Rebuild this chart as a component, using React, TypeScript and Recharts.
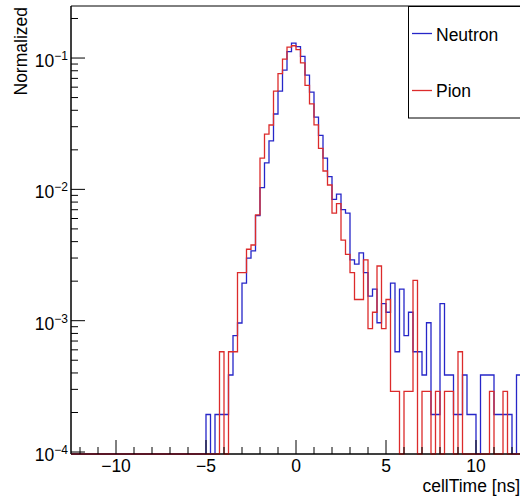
import { LineChart, Line, XAxis, YAxis, ReferenceArea } from 'recharts';

const FONT = '"Liberation Sans", Arial, Helvetica, sans-serif';
const BLUE = '#2626c8';
const RED = '#dc2b2b';

// 100 bins of 0.25 ns, from -12.5 to 12.5 ns
const BIN_LO = -12.5;
const BIN_W = 0.25;

// normalized bin contents
const neutron = [
  0, 0, 0, 0, 0, 0, 0, 0, 0, 0,
  0, 0, 0, 0, 0, 0, 0, 0, 0, 0,
  0, 0, 0, 0, 0, 0, 0, 0, 0, 0,
  // -5 .. -2.5
  1.93e-4, 0, 1.93e-4, 1.93e-4, 1.93e-4, 3.86e-4, 7.7e-4, 9.6e-4, 1.93e-3, 3.0e-3,
  // -2.5 .. 0
  3.4e-3, 6.3e-3, 1.03e-2, 1.59e-2, 2.34e-2, 3.75e-2, 5.6e-2, 8.1e-2, 0.112, 0.13,
  // 0 .. 2.5
  0.122, 0.103, 0.074, 0.055, 0.0355, 0.0258, 0.0173, 0.0125, 0.0084, 0.0092,
  // 2.5 .. 5
  0.007, 0.0066, 2.9e-3, 2.7e-3, 3.28e-3, 2.32e-3, 1.54e-3, 1.74e-3, 9.65e-4, 1.35e-3,
  // 5 .. 7.5
  1.16e-3, 1.93e-3, 5.8e-4, 1.74e-3, 7.7e-4, 1.16e-3, 5.8e-4, 5.8e-4, 3.86e-4, 9.65e-4,
  // 7.5 .. 10
  1.93e-4, 1.93e-4, 1.35e-3, 3.86e-4, 3.86e-4, 1.93e-4, 1.93e-4, 3.86e-4, 1.93e-4, 1.93e-4,
  // 10 .. 12.5
  0, 3.86e-4, 3.86e-4, 3.86e-4, 1.93e-4, 1.93e-4, 1.93e-4, 1.93e-4, 0, 3.86e-4,
];

const pion = [
  0, 0, 0, 0, 0, 0, 0, 0, 0, 0,
  0, 0, 0, 0, 0, 0, 0, 0, 0, 0,
  0, 0, 0, 0, 0, 0, 0, 0, 0, 0,
  0, 0, 0, 5.8e-4, 0, 5.8e-4, 5.8e-4, 2.32e-3, 2.32e-3, 3.5e-3,
  3.77e-3, 6.4e-3, 1.73e-2, 2.63e-2, 3.09e-2, 5.6e-2, 7.6e-2, 9.8e-2, 0.121, 0.124,
  0.116, 0.092, 0.062, 0.0447, 0.031, 0.0205, 0.0138, 0.0108, 0.0066, 0.0078,
  0.0041, 0.0032, 2.32e-3, 1.45e-3, 1.45e-3, 2.9e-3, 8.7e-4, 1.16e-3, 2.61e-3, 8.7e-4,
  1.45e-3, 2.9e-4, 2.9e-4, 0, 2.9e-4, 2.9e-4, 2.03e-3, 0, 2.9e-4, 2.9e-4,
  0, 2.9e-4, 0, 2.9e-4, 2.9e-4, 0, 5.8e-4, 0, 0, 0,
  0, 0, 0, 2.9e-4, 0, 0, 2.9e-4, 0, 0, 0,
];

const X_MIN = -12.5;
const X_MAX = 12.5;
const Y_MIN = 0.966e-4;
const Y_MAX = 0.249;

const xTicks = [-12, -11, -10, -9, -8, -7, -6, -5, -4, -3, -2, -1, 0, 1, 2, 3, 4, 5, 6, 7, 8, 9, 10, 11, 12];
const decades = [1e-4, 1e-3, 1e-2, 1e-1];
const mantissas = [1, 2, 3, 4, 5, 6, 7, 8, 9];
const yTicks = decades.flatMap((d) => mantissas.map((m) => m * d)).filter((v) => v <= Y_MAX);

// empty bins sit on the bottom of the frame, like ROOT does on a log axis
const rows = neutron.map((n, i) => ({
  x: BIN_LO + i * BIN_W,
  neutron: Math.max(n, Y_MIN),
  pion: Math.max(pion[i], Y_MIN),
}));
rows.push({ ...rows[rows.length - 1], x: BIN_LO + neutron.length * BIN_W });

const XTick = ({ x, y, payload }: any) => {
  const v = payload.value;
  const major = v % 5 === 0;
  return (
    <g>
      <line x1={x} x2={x} y1={y} y2={y - (major ? 14 : 7)} stroke="#000" />
      {major && (
        <text x={x} y={y + 18} textAnchor="middle" fontSize={17.5} fontFamily={FONT} fill="#000">
          {v < 0 ? `\u2212${-v}` : `${v}`}
        </text>
      )}
    </g>
  );
};

const YTick = ({ x, y, payload }: any) => {
  const v = payload.value;
  const exp = Math.floor(Math.log10(v) + 1e-9);
  const major = Math.abs(v / Math.pow(10, exp) - 1) < 1e-6;
  return (
    <g>
      <line x1={x} x2={x + (major ? 14 : 7)} y1={y} y2={y} stroke="#000" />
      {major && (
        <text x={x - 3} y={y + 9} textAnchor="end" fontSize={17.5} fontFamily={FONT} fill="#000">
          10
          <tspan fontSize={12} dy={-7}>{`\u2212${-exp}`}</tspan>
        </text>
      )}
    </g>
  );
};

export default function App() {
  return (
    <div style={{ position: 'relative', width: 520, height: 496, overflow: 'hidden', background: '#fff' }}>
      <style>{'body{margin:0}'}</style>
      <LineChart width={540} height={496} data={rows} margin={{ top: 6, right: 19, bottom: 0, left: 0 }}>
        <XAxis
          dataKey="x"
          type="number"
          domain={[X_MIN, X_MAX]}
          ticks={xTicks}
          interval={0}
          height={42}
          tickSize={0}
          tickMargin={0}
          tickLine={false}
          axisLine={{ stroke: '#000' }}
          tick={<XTick />}
        />
        <YAxis
          type="number"
          scale="log"
          domain={[Y_MIN, Y_MAX]}
          ticks={yTicks}
          interval={0}
          width={71}
          tickSize={0}
          tickMargin={0}
          tickLine={false}
          axisLine={{ stroke: '#000' }}
          tick={<YTick />}
        />
        <ReferenceArea x1={X_MIN} x2={X_MAX} y1={Y_MIN} y2={Y_MAX} fill="none" stroke="#000" strokeWidth={1} />
        <Line
          dataKey="neutron"
          type="stepAfter"
          stroke={BLUE}
          strokeWidth={1.3}
          dot={false}
          isAnimationActive={false}
        />
        <Line
          dataKey="pion"
          type="stepAfter"
          stroke={RED}
          strokeWidth={1.3}
          dot={false}
          isAnimationActive={false}
        />
      </LineChart>
      <svg
        width={520}
        height={496}
        style={{ position: 'absolute', left: 0, top: 0, pointerEvents: 'none' }}
        fontFamily={FONT}
      >
        <text transform="rotate(-90)" x={-7} y={27} textAnchor="end" fontSize={17.5} fill="#000">
          Normalized
        </text>
        <text x={520} y={492} textAnchor="end" fontSize={17.5} fill="#000">
          cellTime [ns]
        </text>
        <rect x={408.5} y={6.5} width={130} height={111.5} fill="#fff" stroke="#000" />
        <line x1={412} x2={432} y1={33.5} y2={33.5} stroke={BLUE} strokeWidth={1.3} />
        <text x={436} y={41} fontSize={17.5} fill="#000">Neutron</text>
        <line x1={412} x2={432} y1={90.5} y2={90.5} stroke={RED} strokeWidth={1.3} />
        <text x={436} y={97} fontSize={17.5} fill="#000">Pion</text>
      </svg>
    </div>
  );
}
